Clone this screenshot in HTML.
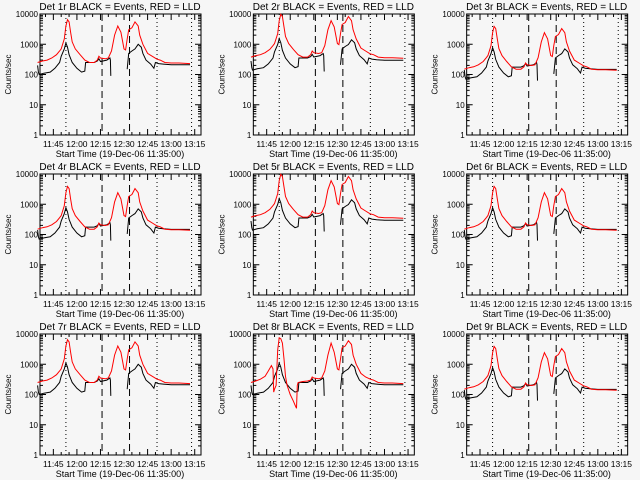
<!DOCTYPE html>
<html><head><meta charset="utf-8"><style>
html,body{margin:0;padding:0;background:#f6f6f6}
svg{display:block;font-family:"Liberation Sans",sans-serif}
</style></head><body>
<svg id="c" width="640" height="480"></svg>
<script>
// time in minutes after 11:35
const redT=[0,3,6,9,12,14,15,17,18,19,20,21,22,24,27,30,33,36,38,39,40,43,45,47,49,51,53,55,56,57,58,60,62,64,65,67,70,73,76,78,81,85,90,97];
const redV=[250,280,300,350,450,600,700,1500,4000,6500,5500,2500,1200,700,450,300,250,250,300,400,350,330,350,600,2000,4000,2500,700,650,1500,3000,3500,5500,4000,2000,1000,500,400,320,300,250,240,240,230];
const blkT=[0,0.5,1,4,8,11,14,15,17,18,19,20,22,25,28,30,30.5,36,38,39,40,44,46,46.3,46.6];
const blkV=[200,120,100,110,120,160,250,400,700,1100,800,450,250,160,120,130,250,250,280,330,270,300,350,300,90];
const blkT2=[57,58,60,62,64,66,67,69,72,74,75,77,80,85,97];
const blkV2=[150,500,600,700,1000,800,500,300,220,160,250,230,220,210,210];
const red8T=[0,3,6,9,11,13,14,14.5,15,16,17,18,19,20,21,22,23,25,27,28,29,29.5,30,33,36,38,39,40,43,45,47,49,51,53,55,56,57,58,60,62,64,65,67,70,73,76,78,81,85,90,97];
const red8V=[250,280,320,400,600,900,700,120,150,200,3000,7500,7000,5000,1500,400,200,100,60,45,35,200,250,270,280,300,380,350,330,350,600,2000,5000,2500,700,650,1500,3500,4000,6000,4500,2000,1000,500,380,320,300,250,240,240,230];
const detNames=["1r","2r","3r","4r","5r","6r","7r","8r","9r"];
const redScale=[1,1.5,0.6,0.6,1.5,0.6,1,1,0.6];
const blkScale=[1,1.4,0.7,0.7,1.4,0.7,1,1,0.7];
const xTicks=["11:45","12:00","12:15","12:30","12:45","13:00","13:15"];
const xTickMin=[10,25,40,55,70,85,100];
const yTicks=[1,10,100,1000,10000];
const dotLines=[18,76,98];
const dashLines=[41,58.5];

const svg=document.getElementById('c');
const NS="http://www.w3.org/2000/svg";
function mk(tag,attrs,parent){const e=document.createElementNS(NS,tag);for(const k in attrs)e.setAttribute(k,attrs[k]);parent.appendChild(e);return e;}
for(let p=0;p<9;p++){
  const col=p%3,row=Math.floor(p/3);
  const px=col*213.33,py=row*160;
  const X0=px+40,X1=px+201,Y0=py+14,Y1=py+135;
  const tmin=1.5,tmax=104;
  const xs=t=>X0+(t-tmin)/(tmax-tmin)*(X1-X0);
  const ys=v=>{const l=Math.max(0,Math.min(4,Math.log10(v)));return Y1-l/4*(Y1-Y0);};
  const g=mk('g',{},svg);
  
  
  const tt=mk('text',{x:px+120,y:py+10,'font-size':10,'text-anchor':'middle',fill:'#000'},g);
  
  
  tt.textContent='Det '+detNames[p]+' BLACK = Events, RED = LLD';
  const fr=mk('rect',{x:X0,y:Y0,width:X1-X0,height:Y1-Y0,fill:'none',stroke:'#000','stroke-width':1},g);
  
  
  yTicks.forEach((v,i)=>{
    const y=ys(v);
    mk('line',{x1:X0,x2:X0+6,y1:y,y2:y,stroke:'#000'},g);
    mk('line',{x1:X1,x2:X1-6,y1:y,y2:y,stroke:'#000'},g);
    if(i<4)for(let m=2;m<10;m++){const yy=ys(v*m);mk('line',{x1:X0,x2:X0+3,y1:yy,y2:yy,stroke:'#000'},g);mk('line',{x1:X1,x2:X1-3,y1:yy,y2:yy,stroke:'#000'},g);}
    const lb=mk('text',{x:X0-2,y:y+3,'font-size':8,'text-anchor':'end'},g);
    
    
    lb.textContent=String(v);
  });
  for(let t=5;t<tmax;t+=5){const x=xs(t);const big=(t-10)%15===0;mk('line',{x1:x,x2:x,y1:Y1,y2:Y1-(big?6:3),stroke:'#000'},g);mk('line',{x1:x,x2:x,y1:Y0,y2:Y0+(big?6:3),stroke:'#000'},g);}
  xTicks.forEach((s,i)=>{
    const lb=mk('text',{x:xs(xTickMin[i]),y:Y1+12,'font-size':8.5,'text-anchor':'middle'},g);
    
    
    lb.textContent=s;
  });
  const xt=mk('text',{x:px+120,y:Y1+22,'font-size':9,'text-anchor':'middle'},g);
  
  
  xt.textContent='Start Time (19-Dec-06 11:35:00)';
  const yt=mk('text',{x:0,y:0,'font-size':8,'text-anchor':'middle',transform:`translate(${px+11},${(Y0+Y1)/2}) rotate(-90)`},g);
  
  
  yt.textContent='Counts/sec';
  dotLines.forEach(t=>{const l=mk('line',{x1:xs(t),x2:xs(t),y1:Y0,y2:Y1,stroke:'#000','stroke-dasharray':'1,3'},g);});
  dashLines.forEach(t=>{const l=mk('line',{x1:xs(t),x2:xs(t),y1:Y0,y2:Y1,stroke:'#000','stroke-dasharray':'7,4'},g);});
  function line(T,V,sc){let d='';for(let i=0;i<T.length;i++){const x=xs(T[i]).toFixed(1),y=ys(V[i]*sc).toFixed(1);d+=(i===0?'M':'L')+x+','+y;}return d;}
  const b1=mk('path',{d:line(blkT,blkV,blkScale[p]),fill:'none',stroke:'#000','stroke-width':1},g);
  
  
  const b2=mk('path',{d:line(blkT2,blkV2,blkScale[p]),fill:'none',stroke:'#000','stroke-width':1},g);
  
  
  const rd=p===7?line(red8T,red8V,1):line(redT,redV,redScale[p]);
  const r=mk('path',{d:rd,fill:'none',stroke:'#ff0000','stroke-width':1},g);
  
  
}
</script>
</body></html>
